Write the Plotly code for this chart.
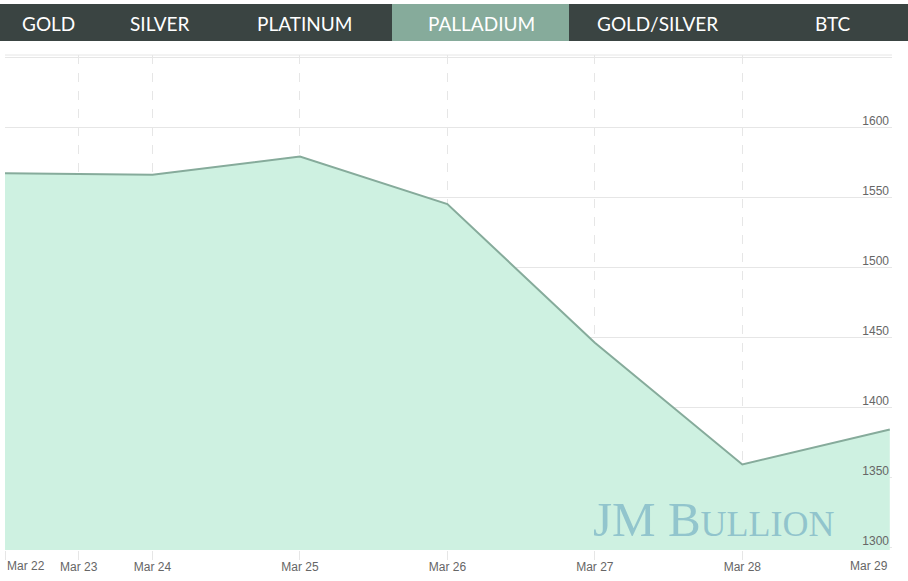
import plotly.graph_objects as go

# ---- data ----
point_pos = [0, 1, 2, 3, 4, 5, 6]
prices = [1567, 1566, 1579, 1545, 1446, 1359, 1384]
tick_pos = [0, 0.5, 1, 2, 3, 4, 5, 6]
tick_labels = ["Mar 22", "Mar 23", "Mar 24", "Mar 25", "Mar 26", "Mar 27", "Mar 28", "Mar 29"]
y_ticks = [1300, 1350, 1400, 1450, 1500, 1550, 1600, 1650]
tabs = ["GOLD", "SILVER", "PLATINUM", "PALLADIUM", "GOLD/SILVER", "BTC"]
tab_centers_px = [48, 160, 304, 481, 657, 833]
active_tab = "PALLADIUM"

W, H = 908, 581
ML, MR, MT, MB = 5, 16, 55, 31
PW, PH = W - ML - MR, H - MT - MB


def px_x(p):
    return (p - ML) / PW


def px_y(p):
    return (H - MB - p) / PH


fig = go.Figure()
fig.add_trace(go.Scatter(
    x=point_pos, y=prices, mode="lines",
    line=dict(color="#86ab9b", width=2),
    fill="tozeroy", fillcolor="#cef1e1",
    hoverinfo="skip", showlegend=False,
))

shapes = []
annotations = []

# tab bar
shapes.append(dict(type="rect", xref="paper", yref="paper",
                   x0=px_x(0), x1=px_x(W), y0=px_y(41), y1=px_y(4),
                   fillcolor="#3a4442", line=dict(width=0), layer="above"))
shapes.append(dict(type="rect", xref="paper", yref="paper",
                   x0=px_x(392), x1=px_x(569), y0=px_y(41), y1=px_y(4),
                   fillcolor="#86ab9b", line=dict(width=0), layer="above"))
for name, cx in zip(tabs, tab_centers_px):
    annotations.append(dict(text=name, xref="paper", yref="paper",
                            x=px_x(cx), y=px_y(23), xanchor="center", yanchor="middle",
                            showarrow=False,
                            font=dict(family="Lato", size=19, color="white")))

# top border of plot
shapes.append(dict(type="line", xref="paper", yref="paper", x0=0, x1=1, y0=1, y1=1,
                   line=dict(color="#e6e6e6", width=1)))

lab_font = dict(family="Liberation Sans, Arial", size=12, color="#666666")
# end x labels justified inside the chart
annotations.append(dict(text=tick_labels[0], x=tick_pos[0], xref="x", yref="paper",
                        y=px_y(557), xanchor="left", yanchor="top", showarrow=False,
                        font=lab_font))
annotations.append(dict(text=tick_labels[-1], x=tick_pos[-1], xref="x", yref="paper",
                        y=px_y(557), xanchor="right", yanchor="top", showarrow=False,
                        font=lab_font))

# watermark
annotations.append(dict(
    text="JM B<span style='font-size:36px'>ULLION</span>",
    xref="paper", yref="paper", x=px_x(591), y=px_y(549), xanchor="left", yanchor="bottom",
    showarrow=False,
    font=dict(family="Liberation Serif, DejaVu Serif", size=49, color="rgba(125,182,198,0.75)")))

x_text = [""] + tick_labels[1:-1] + [""]
y_text = [str(v) for v in y_ticks[:-1]] + [""]

fig.update_layout(
    width=W, height=H,
    margin=dict(l=ML, r=MR, t=MT, b=MB),
    paper_bgcolor="white", plot_bgcolor="white",
    shapes=shapes, annotations=annotations,
    xaxis=dict(range=[0, 6.015], tickvals=tick_pos, ticktext=x_text,
               showgrid=True, gridcolor="#e6e6e6", griddash="dash", gridwidth=1,
               ticks="outside", ticklen=9, tickcolor="#e6e6e6", ticklabelstandoff=-3,
               tickfont=lab_font,
               zeroline=False, showline=False, fixedrange=True),
    yaxis=dict(range=[1297.9, 1651.5], tickvals=y_ticks, ticktext=y_text, side="right",
               ticklabelposition="inside top", ticklabelshift=2,
               showgrid=True, gridcolor="#e6e6e6", gridwidth=1,
               tickfont=lab_font,
               zeroline=False, showline=False, ticks="", fixedrange=True),
)

fig.write_html("out.html")
